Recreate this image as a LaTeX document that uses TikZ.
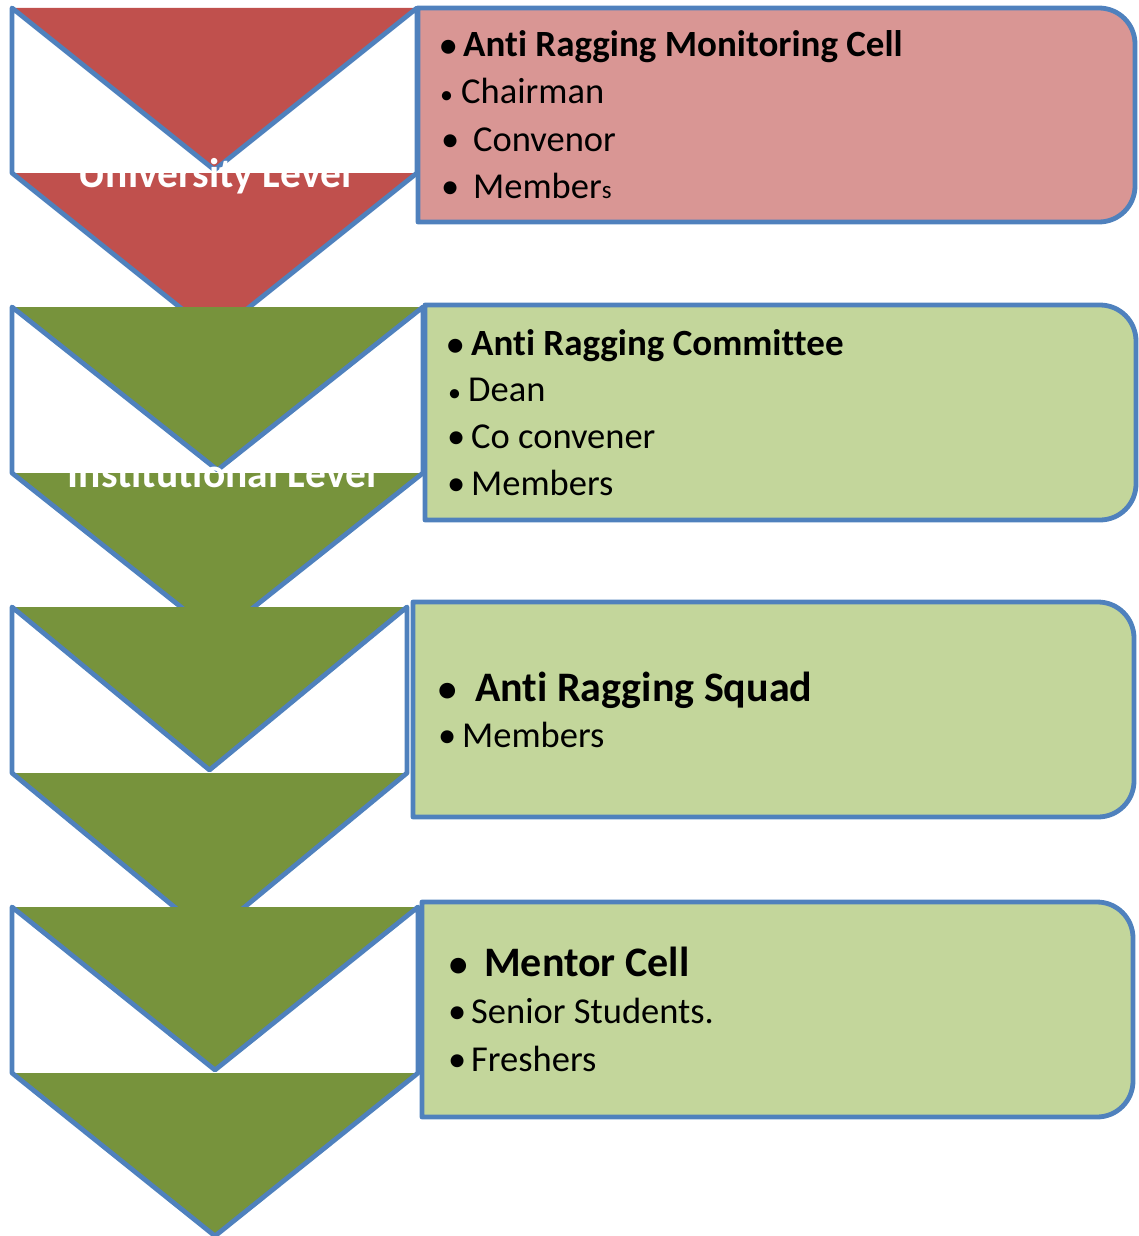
\documentclass[tikz,border=0pt]{standalone}
\usepackage{fontspec}
\setmainfont{Carlito}[RawFeature={-liga;-clig}]
\definecolor{redc}{HTML}{C0504D}
\definecolor{pinkc}{HTML}{D99694}
\definecolor{greenc}{HTML}{77933C}
\definecolor{lgreen}{HTML}{C3D69B}
\definecolor{bluec}{HTML}{4F81BD}
\tikzset{
  outl/.style={draw=bluec, line width=4.8pt, line join=round},
  lvl/.style={text=white, font=\fontsize{41.5}{44}\selectfont\bfseries, anchor=base},
  itm/.style={anchor=base west, inner sep=0pt, font=\fontsize{36.5}{40}\selectfont},
  hd/.style={anchor=base west, inner sep=0pt, font=\fontsize{37}{40}\selectfont\bfseries},
  hdb/.style={anchor=base west, inner sep=0pt, font=\fontsize{42}{45}\selectfont\bfseries},
}
\newcommand\chevron[5]{%
  \pgfmathsetmacro\cx{(#1+#2)/2}%
  \pgfmathsetmacro\nn{#4-3}%
  \pgfmathsetmacro\tp{#4+\nn-#3}%
  \fill[#5] (#1,#3) -- (#2,#3) -- (\cx,\nn) -- cycle;
  \fill[#5] (#1,#4) -- (#2,#4) -- (\cx,\tp) -- cycle;
  \draw[outl] (#1,#3) -- (\cx,\nn) -- (#2,#3) -- (#2,#4) -- (\cx,\tp) -- (#1,#4) -- cycle;
}
\newcommand\cbox[5]{%
  \filldraw[outl, fill=#5] (#1,#2) -- ({#3-36},#2) arc[start angle=-90,end angle=0,radius=36pt]
    -- (#3,{#4-36}) arc[start angle=0,end angle=90,radius=36pt] -- (#1,#4) -- cycle;
}
\newcommand\bl[2]{\makebox[#1pt][l]{#2}}
\begin{document}
\begin{tikzpicture}[x=1pt, y=1pt, yscale=-1]
\useasboundingbox (0,0) rectangle (1138,1236);
% chevrons
\chevron{12}{417}{8}{173}{redc}
\chevron{12}{423}{307}{473}{greenc}
\chevron{12}{407}{607}{773}{greenc}
\chevron{12}{418}{907}{1073}{greenc}
% boxes
\cbox{418}{8}{1135}{222}{pinkc}
\cbox{425}{305}{1136}{520}{lgreen}
\cbox{413}{602}{1134}{817}{lgreen}
\cbox{422}{902}{1133}{1117}{lgreen}
% level labels
\node[lvl] (uni) at (215,187) {University Level};
\node[lvl] (ins) at (222,487) {Institutional Level};
% box 1
\node[hd]  (a1) at (440,57)  {\bl{23}{\fontsize{33}{33}\selectfont •}Anti Ragging Monitoring Cell};
\node[itm] (a2) at (440,103) {\bl{21}{\fontsize{26}{26}\selectfont •}Chairman};
\node[itm] (a3) at (441,151) {\bl{32}{•}Convenor};
\node[itm] (a4) at (441,198) {\bl{32}{•}Member{\fontsize{25}{25}\selectfont s}};
% box 2
\node[hd]  (b1) at (447,355) {\bl{24}{\fontsize{33}{33}\selectfont •}Anti Ragging Committee};
\node[itm] (b2) at (448,401) {\bl{20}{\fontsize{26}{26}\selectfont •}Dean};
\node[itm] (b3) at (447,448) {\bl{24}{•}Co convener};
\node[itm] (b4) at (447,495) {\bl{24}{•}Members};
% box 3
\node[hdb] (c1) at (438,701) {\bl{37}{\fontsize{37}{37}\selectfont •}Anti Ragging Squad};
\node[itm] (c2) at (438,747) {\bl{24}{•}Members};
% box 4
\node[hdb] (d1) at (449,976)  {\bl{35}{\fontsize{37}{37}\selectfont •}Mentor Cell};
\node[itm] (d2) at (448,1023) {\bl{23}{•}Senior Students.};
\node[itm] (d3) at (448,1071) {\bl{23}{•}Freshers};
\end{tikzpicture}
\end{document}
